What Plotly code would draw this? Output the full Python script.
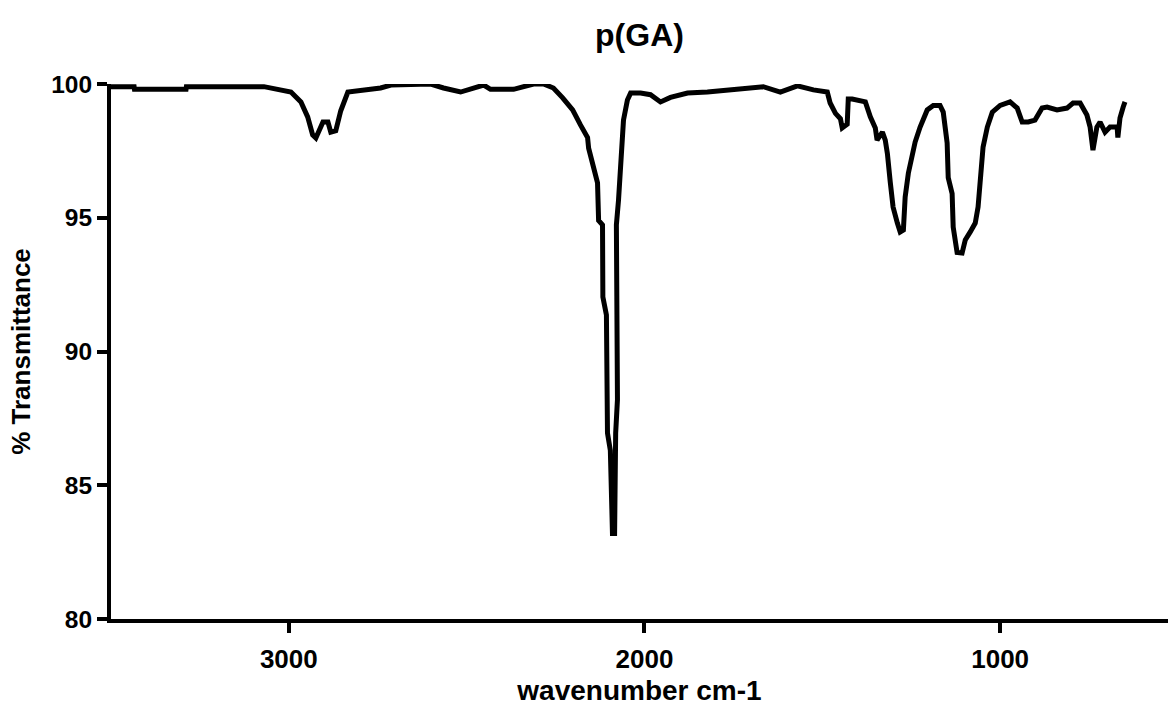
import plotly.graph_objects as go

wavenumber = [3500, 3435, 3434, 3289, 3288, 3070, 2994, 2966, 2947, 2933, 2924, 2904, 2890, 2882,
              2868, 2854, 2834, 2778, 2742, 2713, 2705, 2649, 2601, 2565, 2517, 2452, 2433, 2368,
              2312, 2284, 2256, 2230, 2202, 2180, 2160, 2157, 2143, 2132, 2129, 2118, 2117, 2107,
              2104, 2096, 2090, 2084, 2081, 2076, 2079, 2073, 2059, 2048, 2039, 2011, 1983, 1955,
              1927, 1879, 1823, 1758, 1666, 1618, 1570, 1525, 1486, 1478, 1463, 1449, 1444, 1430,
              1427, 1416, 1379, 1365, 1351, 1346, 1331, 1323, 1317, 1309, 1301, 1289, 1281, 1272,
              1267, 1258, 1247, 1239, 1225, 1205, 1188, 1169, 1160, 1149, 1146, 1135, 1132, 1121,
              1107, 1098, 1084, 1070, 1062, 1056, 1048, 1036, 1022, 1000, 972, 952, 938, 921, 902,
              882, 868, 840, 812, 795, 775, 756, 747, 739, 728, 719, 705, 691, 671, 669, 663, 654, 649]
transmittance = [99.9, 99.9, 99.8, 99.8, 99.9, 99.9, 99.7, 99.33, 98.77, 98.1, 97.98, 98.58, 98.58, 98.2,
                 98.25, 99.0, 99.7, 99.78, 99.85, 99.96, 99.96, 100.0, 100.0, 99.85, 99.7, 99.96, 99.8, 99.8,
                 100.0, 100.0, 99.85, 99.48, 99.03, 98.47, 98.0, 97.6, 96.9, 96.3, 94.9, 94.73, 92.04, 91.36,
                 86.95, 86.3, 83.2, 83.2, 86.95, 88.2, 94.73, 95.66, 98.65, 99.4, 99.66, 99.66, 99.6, 99.33,
                 99.5, 99.66, 99.7, 99.78, 99.9, 99.7, 99.93, 99.78, 99.7, 99.29, 98.9, 98.7, 98.36, 98.5,
                 99.44, 99.44, 99.33, 98.77, 98.36, 97.9, 98.2, 97.9, 97.4, 96.34, 95.4, 94.8, 94.47, 94.54,
                 95.78, 96.67, 97.27, 97.83, 98.39, 99.03, 99.2, 99.2, 98.95, 97.8, 96.5, 95.9, 94.65, 93.7,
                 93.68, 94.17, 94.47, 94.8, 95.4, 96.5, 97.64, 98.39, 98.95, 99.2, 99.33, 99.1, 98.58, 98.58, 98.65,
                 99.1, 99.14, 99.03, 99.1, 99.29, 99.29, 98.84, 98.39, 97.53, 98.39, 98.58, 98.2, 98.39, 98.39, 98.0,
                 98.73, 99.14, 99.33]

x_ticks = [3000, 2000, 1000]
y_ticks = [80, 85, 90, 95, 100]

FONT = "Arial, Liberation Sans, sans-serif"

fig = go.Figure()
fig.add_trace(go.Scatter(x=wavenumber, y=transmittance, mode="lines",
                         line=dict(color="black", width=5), showlegend=False))

fig.update_layout(
    width=1168, height=706,
    margin=dict(l=111, r=0, t=84, b=87),
    plot_bgcolor="white", paper_bgcolor="white",
    font=dict(family=FONT, color="black"),
    title=dict(text="<b>p(GA)</b>", x=0.5, xref="paper", xanchor="center", y=1-35/706, yanchor="middle",
               font=dict(size=32, family=FONT, color="black")),
    xaxis=dict(range=[3500, 528], tickvals=x_ticks, ticktext=[f"<b>{v}</b>" for v in x_ticks],
               ticks="outside", ticklen=10, tickwidth=4, tickcolor="black",
               showline=True, linewidth=4, linecolor="black", showgrid=False, zeroline=False,
               ticklabelstandoff=4,
               tickfont=dict(size=26, family=FONT, color="black"),
               title=dict(text="<b>wavenumber cm-1</b>", font=dict(size=28, family=FONT, color="black"), standoff=12)),
    yaxis=dict(range=[80, 100], tickvals=y_ticks, ticktext=[f"<b>{v}</b>" for v in y_ticks],
               ticks="outside", ticklen=10, tickwidth=4, tickcolor="black",
               showline=True, linewidth=4, linecolor="black", showgrid=False, zeroline=False,
               tickfont=dict(size=24.5, family=FONT, color="black"),
               title=dict(text="<b>% Transmittance</b>", font=dict(size=26, family=FONT, color="black"), standoff=14)),
)

fig.write_html("out.html")
